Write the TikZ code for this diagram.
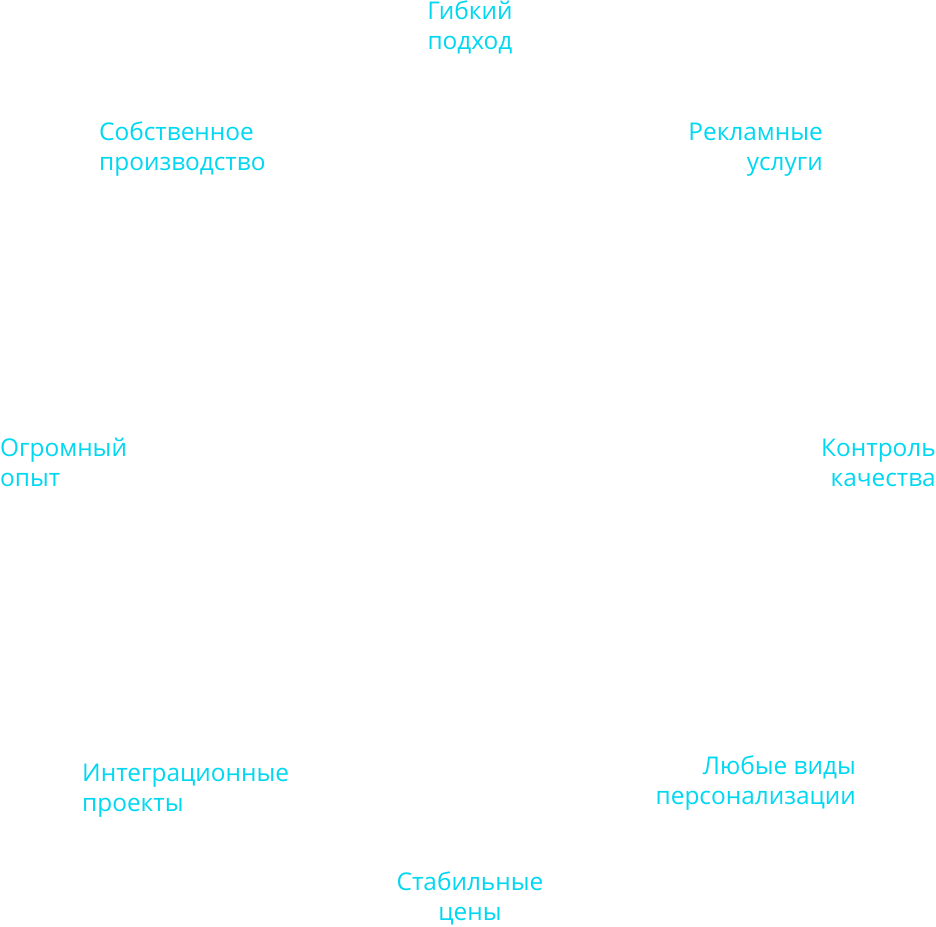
\documentclass[tikz,border=0pt]{standalone}
\usepackage{fontspec}
\setmainfont{Open Sans}
\usepackage{xcolor}
\usepackage{tikz}
\usetikzlibrary{positioning}
\definecolor{labelcyan}{HTML}{00D8F2}
\tikzset{
  feature/.style={inner sep=0pt, text=labelcyan, font=\fontsize{24.4}{30}\selectfont},
  leftfeature/.style={feature, align=left, anchor=base west},
  rightfeature/.style={feature, align=right, anchor=base east},
  midfeature/.style={feature, align=center, anchor=base},
}

\begin{document}
\begin{tikzpicture}[x=1pt, y=1pt]

  %% ---- CANVAS ----
  \fill[white] (0,0) rectangle (936,926);
  \useasboundingbox (0,0) rectangle (936,926);

  %% ---- TOP / BOTTOM ----
  \node[midfeature] (flexible) at (470,876) {Гибкий\\подход};
  \node[midfeature] (prices) at (470,5.5) {Стабильные\\цены};

  %% ---- LEFT SIDE ----
  \node[leftfeature] (production) at (99,755) {Собственное\\производство};
  \node[leftfeature] (experience) at (0,439) {Огромный\\опыт};
  \node[leftfeature] (integration) at (82,115) {Интеграционные\\проекты};

  %% ---- RIGHT SIDE ----
  \node[rightfeature] (advertising) at (823,755) {Рекламные\\услуги};
  \node[rightfeature] (quality) at (936,439) {Контроль\\качества};
  \node[rightfeature] (personal) at (856,122) {Любые виды\\персонализации};

\end{tikzpicture}
\end{document}
